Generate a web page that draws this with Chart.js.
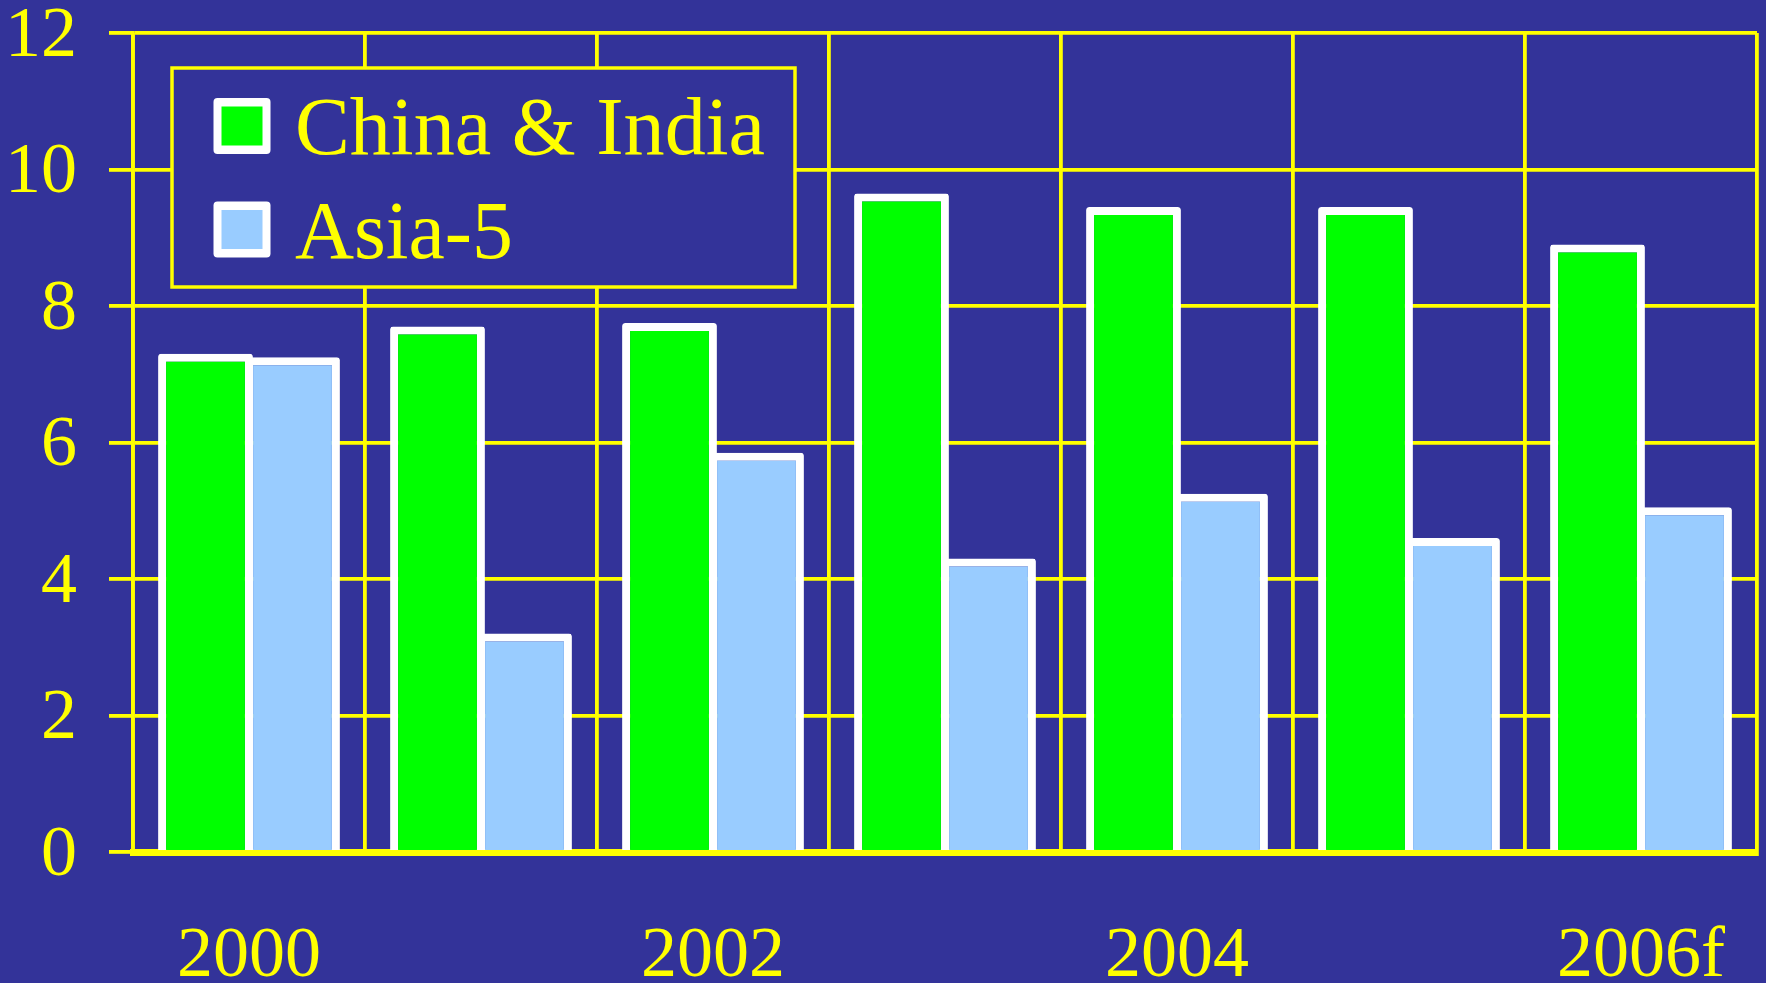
<!DOCTYPE html>
<html>
<head>
<meta charset="utf-8">
<script src="https://cdn.jsdelivr.net/npm/chart.js@4.4.1/dist/chart.umd.min.js"></script>
<style>
  html, body { margin: 0; padding: 0; background: #333399; }
  canvas { display: block; }
</style>
</head>
<body>
<canvas id="chart" width="1766" height="983"></canvas>
<script>
const years = ['2000', '2001', '2002', '2003', '2004', '2005', '2006f'];
const chinaIndia = [7.3, 7.7, 7.75, 9.65, 9.45, 9.45, 8.9];
const asia5 = [7.25, 3.2, 5.85, 4.3, 5.25, 4.6, 5.05];
const yTicks = [0, 2, 4, 6, 8, 10, 12];

const BG = '#333399';
const YELLOW = '#ffff00';
const FONT = "'Liberation Serif', 'Times New Roman', serif";

// legend sits inside the plot area, boxed, covering the grid
const boxLegend = {
  id: 'boxLegend',
  afterDraw(chart) {
    const ctx = chart.ctx;
    const area = chart.chartArea;
    const x0 = area.left + 39, y0 = area.top + 35;
    ctx.save();
    ctx.fillStyle = BG;
    ctx.fillRect(x0, y0, 623, 219);
    ctx.strokeStyle = YELLOW;
    ctx.lineWidth = 3.5;
    ctx.strokeRect(x0, y0, 623, 219);

    ctx.font = '83px ' + FONT;
    ctx.textBaseline = 'alphabetic';
    chart.data.datasets.forEach((ds, i) => {
      const sy = y0 + 30 + i * 103.5;
      ctx.fillStyle = '#ffffff';
      ctx.beginPath();
      ctx.roundRect(x0 + 41.5, sy, 57, 56, 4);
      ctx.fill();
      ctx.fillStyle = ds.backgroundColor;
      ctx.fillRect(x0 + 49.5, sy + 8.5, 41, 39);
      ctx.fillStyle = YELLOW;
      const w = ctx.measureText(ds.label).width;
      ctx.fillText(ds.label, x0 + 123, sy + 56, i === 0 ? 470 : w * 0.985);
    });
    ctx.restore();
  }
};

new Chart(document.getElementById('chart'), {
  type: 'bar',
  data: {
    labels: years,
    datasets: [{
      label: 'China & India',
      data: chinaIndia,
      backgroundColor: '#00ff00',
      borderColor: '#ffffff',
      borderWidth: 8,
      borderRadius: 3,
      categoryPercentage: 0.75,
      barPercentage: 1.09,
    }, {
      label: 'Asia-5',
      data: asia5,
      backgroundColor: '#99ccff',
      borderColor: '#ffffff',
      borderWidth: 8,
      borderRadius: 3,
      categoryPercentage: 0.75,
      barPercentage: 1.09,
    }],
  },
  options: {
    responsive: false,
    animation: false,
    layout: { padding: { top: 33, right: 9, left: 0, bottom: 0 } },
    plugins: {
      legend: { display: false },
      tooltip: { enabled: false },
    },
    scales: {
      x: {
        ticks: {
          color: YELLOW,
          font: { family: FONT, size: 72 },
          padding: 62,
          autoSkip: false,
          maxRotation: 0,
          callback: (v, i) => (i % 2 ? '' : years[i]),
        },
        grid: { color: YELLOW, lineWidth: 3.8, drawTicks: false, offset: true },
        border: { color: YELLOW, width: 7 },
        afterFit(scale) {
          scale.height = 131;
          scale.paddingLeft = 0;
          scale.paddingRight = 0;
        },
      },
      y: {
        min: 0,
        max: 12,
        afterBuildTicks(scale) {
          scale.ticks = yTicks.map(v => ({ value: v }));
        },
        ticks: {
          color: YELLOW,
          font: { family: FONT, size: 72 },
          padding: 32,
          labelOffset: 4,
        },
        grid: { color: YELLOW, lineWidth: 3.8, tickLength: 24 },
        border: { color: YELLOW, width: 3.8 },
        afterFit(scale) {
          scale.width = 133;
          scale.paddingTop = 0;
          scale.paddingBottom = 0;
        },
      },
    },
  },
  plugins: [boxLegend],
});
</script>
</body>
</html>
